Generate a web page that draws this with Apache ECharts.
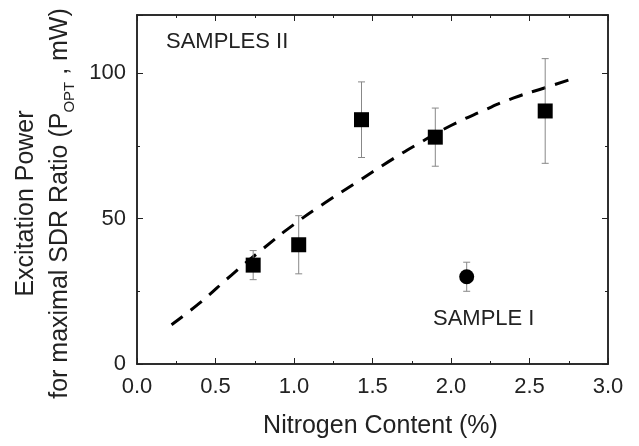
<!DOCTYPE html>
<html><head><meta charset="utf-8">
<script src="https://cdn.jsdelivr.net/npm/echarts@6/dist/echarts.min.js"></script>
<style>html,body{margin:0;padding:0;background:#fff}#c{width:639px;height:446px}</style>
</head><body><div id="c"></div>
<script>
// Samples II (squares)
const nitrogenII = [0.74, 1.03, 1.43, 1.90, 2.60];
const powerII    = [34, 41, 84, 78, 87];
const errLowII   = [29, 31, 71, 68, 69];
const errHighII  = [39, 51, 97, 88, 105];
// Sample I (circle)
const nitrogenI = [2.10];
const powerI    = [30];
const errLowI   = [25];
const errHighI  = [35];
// Dashed guide curve
const curveX = [0.22, 0.4, 0.6, 0.8, 1.0, 1.2, 1.4, 1.6, 1.8, 2.0, 2.2, 2.4, 2.6, 2.77];
const curveY = [13.5, 21, 30.5, 39.5, 48, 55.5, 62.5, 69.5, 76, 82, 87, 91.5, 95, 98];
const yLabels = [0, 50, 100];
const xLabels = ['0.0','0.5','1.0','1.5','2.0','2.5','3.0'];

const FONT = 'Liberation Sans, Arial, Helvetica, sans-serif';
const AX = '#222';
const chart = echarts.init(document.getElementById('c'), null, {renderer: 'canvas'});

function errItem(params, api) {
  const x = api.value(0), lo = api.value(1), hi = api.value(2);
  const pLo = api.coord([x, lo]), pHi = api.coord([x, hi]);
  const c = 3.5;
  const st = {stroke: '#888', lineWidth: 1};
  return {type: 'group', children: [
    {type: 'line', shape: {x1: pLo[0], y1: pLo[1], x2: pHi[0], y2: pHi[1]}, style: st},
    {type: 'line', shape: {x1: pLo[0]-c, y1: pLo[1], x2: pLo[0]+c, y2: pLo[1]}, style: st},
    {type: 'line', shape: {x1: pHi[0]-c, y1: pHi[1], x2: pHi[0]+c, y2: pHi[1]}, style: st}
  ]};
}

const baseX = {type: 'value', min: 0, max: 3, splitLine: {show: false},
  axisLine: {show: true, onZero: false, lineStyle: {color: AX, width: 1.5}}};
const baseY = {type: 'value', min: 0, max: 120, splitLine: {show: false},
  axisLine: {show: true, onZero: false, lineStyle: {color: AX, width: 1.5}}};

chart.setOption({
  animation: false,
  grid: {left: 137, right: 31, top: 15, bottom: 82, containLabel: false, outerBoundsMode: 'none'},
  xAxis: [
    Object.assign({}, baseX, {position: 'bottom', interval: 0.5,
      axisTick: {inside: true, length: 6, lineStyle: {color: AX}},
      axisLabel: {margin: 12, fontSize: 22, color: '#222', fontFamily: FONT,
        formatter: v => xLabels[Math.round(v * 2)] || ''},
      name: 'Nitrogen Content (%)', nameLocation: 'middle', nameGap: 50,
      nameTextStyle: {fontSize: 25, color: '#222', fontFamily: FONT, padding: [0, 0, 0, 16]}}),
    Object.assign({}, baseX, {position: 'bottom', interval: 0.25,
      axisTick: {inside: true, length: 3, lineStyle: {color: AX}}, axisLabel: {show: false}}),
    Object.assign({}, baseX, {position: 'top', interval: 0.5,
      axisTick: {inside: true, length: 6, lineStyle: {color: AX}}, axisLabel: {show: false}}),
    Object.assign({}, baseX, {position: 'top', interval: 0.25,
      axisTick: {inside: true, length: 3, lineStyle: {color: AX}}, axisLabel: {show: false}})
  ],
  yAxis: [
    Object.assign({}, baseY, {position: 'left', interval: 50,
      axisTick: {inside: true, length: 6, lineStyle: {color: AX}},
      axisLabel: {margin: 11, fontSize: 22, color: '#222', fontFamily: FONT,
        formatter: v => yLabels.indexOf(v) >= 0 ? String(v) : ''},
      name: '{a|Excitation Power}\n{a|for maximal SDR Ratio (P}{s|OPT}{a| , mW)}',
      nameLocation: 'middle', nameRotate: 90, nameGap: 60,
      nameTextStyle: {color: '#222', fontFamily: FONT, padding: [0, 28, 0, 0],
        rich: {a: {fontSize: 25, lineHeight: 34, fontFamily: FONT, color: '#222'},
               s: {fontSize: 15, lineHeight: 34, fontFamily: FONT, color: '#222', verticalAlign: 'bottom'}}}}),
    Object.assign({}, baseY, {position: 'left', interval: 25,
      axisTick: {inside: true, length: 3, lineStyle: {color: AX}}, axisLabel: {show: false}}),
    Object.assign({}, baseY, {position: 'right', interval: 50,
      axisTick: {inside: true, length: 6, lineStyle: {color: AX}}, axisLabel: {show: false}}),
    Object.assign({}, baseY, {position: 'right', interval: 25,
      axisTick: {inside: true, length: 3, lineStyle: {color: AX}}, axisLabel: {show: false}})
  ],
  graphic: [
    {type: 'text', left: 166, top: 31, style: {text: 'SAMPLES II', fontSize: 22, fontFamily: FONT, fill: '#222'}},
    {type: 'text', left: 433, top: 308, style: {text: 'SAMPLE I', fontSize: 22, fontFamily: FONT, fill: '#222'}}
  ],
  series: [
    {type: 'line', data: curveX.map((x, i) => [x, curveY[i]]), smooth: true, showSymbol: false,
      lineStyle: {color: '#000', width: 3, type: [14, 10]}, z: 2},
    {type: 'custom', renderItem: errItem, data: nitrogenII.map((x, i) => [x, errLowII[i], errHighII[i]]), z: 3},
    {type: 'custom', renderItem: errItem, data: nitrogenI.map((x, i) => [x, errLowI[i], errHighI[i]]), z: 3},
    {type: 'scatter', data: nitrogenII.map((x, i) => [x, powerII[i]]), symbol: 'rect', symbolSize: 15,
      itemStyle: {color: '#000', opacity: 1}, z: 4},
    {type: 'scatter', data: nitrogenI.map((x, i) => [x, powerI[i]]), symbol: 'circle', symbolSize: 15,
      itemStyle: {color: '#000', opacity: 1}, z: 4}
  ]
});
</script></body></html>
